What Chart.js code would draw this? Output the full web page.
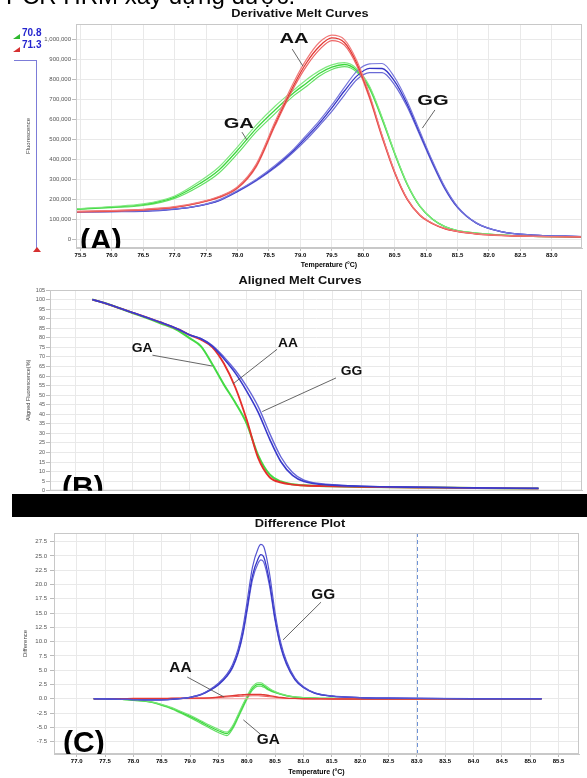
<!DOCTYPE html>
<html>
<head>
<meta charset="utf-8">
<script src="https://cdn.jsdelivr.net/npm/chart.js@4.4.1/dist/chart.umd.min.js"></script>
<style>
  body { margin: 0; background: #fff; width: 587px; height: 778px; overflow: hidden; position: relative; }
  canvas { position: absolute; left: 0; }
  #chartA { top: 0; }
  #chartB { top: 270px; }
  #chartC { top: 517px; }
  .cut-text { position: absolute; left: 6px; top: -18px; font: 24px "Liberation Sans", Arial, sans-serif; color: #000; white-space: nowrap; z-index: 2; }
  .tm { position: absolute; left: 22px; font: bold 10px "Liberation Sans", Arial, sans-serif; color: #2525cf; line-height: 10px; z-index: 2; }
  .flag { position: absolute; left: 13px; width: 0; height: 0; border-style: solid; z-index: 2; }
  .brk-h { position: absolute; left: 14px; top: 60px; width: 23px; border-top: 1.5px solid #7c7cd8; z-index: 2; }
  .brk-v { position: absolute; left: 36px; top: 60px; height: 190px; border-left: 1.5px solid #7c7cd8; z-index: 2; }
  .bar { position: absolute; left: 12px; top: 494px; width: 575px; height: 23px; background: #000; z-index: 3; }
</style>
</head>
<body>
<div class="cut-text">PCR HRM xây dựng được.</div>
<div class="tm" style="top:28px">70.8</div>
<div class="tm" style="top:40px">71.3</div>
<div class="flag" style="top:34px;border-width:0 0 5px 7px;border-color:transparent transparent #2fb82f transparent"></div>
<div class="flag" style="top:47px;border-width:0 0 5px 7px;border-color:transparent transparent #d63030 transparent"></div>
<div class="brk-h"></div>
<div class="brk-v"></div>
<div class="flag" style="left:33px;top:247px;border-width:0 4px 5px 4px;border-color:transparent transparent #d63030 transparent"></div>

<canvas id="chartA" width="587" height="270"></canvas>
<canvas id="chartB" width="587" height="225"></canvas>
<div class="bar"></div>
<canvas id="chartC" width="587" height="261"></canvas>

<script>
const FONT = '"Liberation Sans", Arial, sans-serif';

// (A) derivative melt curves, fluorescence vs temperature
const tempA = [75.43, 76.0, 76.5, 77.0, 77.4, 77.7, 78.0, 78.3, 78.6, 78.9, 79.1, 79.3, 79.5, 79.7, 79.9, 80.1, 80.3, 80.5, 80.7, 80.9, 81.1, 81.3, 81.5, 81.8, 82.2, 82.7, 83.48];
const derivAA1 = [139000, 143000, 149000, 162000, 185000, 213000, 262000, 377000, 590000, 790000, 902000, 985000, 1022000, 1000000, 893000, 725000, 520000, 338000, 202000, 121000, 79000, 53000, 38000, 26000, 18000, 13000, 11000];
const derivAA2 = [137000, 141000, 147000, 160000, 183000, 210000, 258000, 370000, 580000, 775000, 885000, 965000, 1008000, 985000, 880000, 715000, 515000, 335000, 200000, 120000, 78000, 52000, 38000, 26000, 18000, 13000, 11000];
const derivAA3 = [135000, 139000, 145000, 158000, 181000, 207000, 254000, 363000, 570000, 762000, 868000, 948000, 995000, 972000, 868000, 705000, 508000, 330000, 197000, 118000, 77000, 51000, 37000, 25000, 17000, 13000, 11000];
const derivGA1 = [152000, 163000, 176000, 216000, 290000, 360000, 462000, 572000, 667000, 748000, 800000, 843000, 873000, 884000, 853000, 766000, 610000, 433000, 277000, 166000, 101000, 62000, 42000, 30000, 20000, 14000, 11000];
const derivGA2 = [150000, 160000, 172000, 210000, 278000, 345000, 445000, 555000, 648000, 735000, 782000, 830000, 862000, 875000, 845000, 760000, 605000, 430000, 275000, 165000, 100000, 62000, 42000, 30000, 20000, 14000, 11000];
const derivGA3 = [148000, 157000, 168000, 204000, 266000, 330000, 428000, 538000, 630000, 720000, 766000, 816000, 850000, 864000, 836000, 752000, 598000, 426000, 272000, 163000, 99000, 61000, 41000, 29000, 20000, 14000, 11000];
const derivGG1 = [137000, 139000, 141000, 151000, 169000, 195000, 243000, 300000, 370000, 453000, 522000, 592000, 672000, 760000, 842000, 878000, 880000, 810000, 690000, 540000, 392000, 260000, 163000, 81000, 37000, 20000, 12000];
const derivGG2 = [136000, 138000, 140000, 150000, 168000, 193000, 240000, 296000, 364000, 446000, 512000, 580000, 658000, 742000, 818000, 856000, 855000, 790000, 675000, 530000, 385000, 255000, 160000, 80000, 37000, 20000, 12000];
const derivGG3 = [135000, 137000, 139000, 149000, 167000, 191000, 237000, 292000, 358000, 439000, 500000, 568000, 640000, 722000, 800000, 834000, 834000, 772000, 662000, 520000, 378000, 250000, 157000, 79000, 36000, 20000, 12000];
const fluorTicks = [0, 100000, 200000, 300000, 400000, 500000, 600000, 700000, 800000, 900000, 1000000];
const tempTicksA = [75.5, 76.0, 76.5, 77.0, 77.5, 78.0, 78.5, 79.0, 79.5, 80.0, 80.5, 81.0, 81.5, 82.0, 82.5, 83.0];

// (B) aligned melt curves, % fluorescence
const tempB = [76.8, 77.0, 77.5, 78.0, 78.3, 78.5, 78.7, 78.9, 79.1, 79.3, 79.5, 79.7, 79.9, 80.1, 80.3, 80.5, 81.0, 81.5, 82.5, 83.5, 84.6];
const alignAA = [100, 98.3, 93.2, 88, 84.5, 81.5, 79, 75, 66.5, 54, 37, 17, 7, 4.3, 3.2, 2.7, 2.3, 2.0, 1.7, 1.4, 1.1];
const alignGA = [100, 98.3, 93.0, 87.5, 83.8, 79.8, 75.5, 66, 55.5, 46, 35, 18.5, 8.5, 4.8, 3.4, 2.8, 2.3, 2.0, 1.7, 1.4, 1.1];
const alignGG1 = [100, 98.3, 93.2, 88, 84.5, 81.5, 79.5, 75.5, 69, 61.5, 52, 41, 27, 15, 8, 4.8, 2.9, 2.3, 1.8, 1.5, 1.2];
const alignGG2 = [100, 98.3, 93.2, 88, 84.5, 81.5, 79.5, 76, 70, 63, 54.5, 44, 30, 17.5, 9.5, 5.5, 3.1, 2.4, 1.9, 1.5, 1.2];
const alignTicks = [0, 5, 10, 15, 20, 25, 30, 35, 40, 45, 50, 55, 60, 65, 70, 75, 80, 85, 90, 95, 100, 105];
const tempTicksB = [76.5, 77.0, 77.5, 78.0, 78.5, 79.0, 79.5, 80.0, 80.5, 81.0, 81.5, 82.0, 82.5, 83.0, 83.5, 84.0, 84.5, 85.0];

// (C) difference plot, AA as reference
const tempC = [77.3, 77.8, 78.0, 78.3, 78.6, 78.8, 79.0, 79.2, 79.35, 79.5, 79.65, 79.75, 79.85, 79.93, 80.0, 80.1, 80.2, 80.25, 80.3, 80.4, 80.5, 80.6, 80.7, 80.85, 81.0, 81.2, 81.5, 82.0, 82.5, 83.0, 84.0, 85.2];
const diffGG1 = [0, -0.1, -0.15, -0.2, -0.15, 0, 0.25, 0.8, 1.6, 2.7, 4.3, 6.0, 8.8, 12.3, 16.6, 23.0, 26.3, 27.0, 26.6, 22.0, 15.0, 9.8, 6.6, 3.6, 2.1, 1.05, 0.5, 0.2, 0.1, 0.05, 0, 0];
const diffGG2 = [0, -0.1, -0.15, -0.2, -0.15, 0, 0.25, 0.75, 1.5, 2.5, 4.0, 5.6, 8.2, 11.5, 15.5, 21.5, 24.5, 25.2, 24.8, 20.5, 14.0, 9.2, 6.2, 3.4, 2.0, 1.0, 0.45, 0.2, 0.1, 0.05, 0, 0];
const diffGG3 = [0, -0.1, -0.15, -0.2, -0.15, 0, 0.25, 0.7, 1.45, 2.4, 3.9, 5.4, 8.0, 11.1, 15.0, 20.8, 23.7, 24.3, 23.9, 19.8, 13.6, 8.9, 6.0, 3.3, 1.9, 0.95, 0.45, 0.2, 0.1, 0.05, 0, 0];
const diffGA1 = [0, -0.1, -0.22, -0.5, -1.3, -2.05, -2.9, -3.9, -4.65, -5.35, -5.85, -4.75, -2.7, -1.0, 0.35, 2.1, 2.8, 2.8, 2.5, 1.8, 1.25, 0.85, 0.6, 0.32, 0.2, 0.1, 0.05, 0, 0, 0, 0, 0];
const diffGA2 = [0, -0.1, -0.25, -0.55, -1.4, -2.2, -3.1, -4.1, -4.9, -5.6, -6.1, -5.0, -3.0, -1.3, 0.1, 1.8, 2.5, 2.5, 2.25, 1.6, 1.15, 0.8, 0.55, 0.3, 0.2, 0.1, 0.05, 0, 0, 0, 0, 0];
const diffGA3 = [0, -0.12, -0.28, -0.6, -1.5, -2.35, -3.3, -4.35, -5.15, -5.9, -6.45, -5.3, -3.3, -1.6, -0.15, 1.5, 2.2, 2.2, 2.0, 1.45, 1.05, 0.75, 0.5, 0.28, 0.18, 0.1, 0.05, 0, 0, 0, 0, 0];
const diffAA1 = [0, 0.02, 0.05, 0.05, 0.08, 0.1, 0.1, 0.12, 0.15, 0.3, 0.45, 0.55, 0.65, 0.7, 0.75, 0.78, 0.78, 0.75, 0.7, 0.55, 0.38, 0.22, 0.12, 0.05, 0, -0.02, -0.05, -0.05, -0.05, -0.05, -0.03, 0];
const diffAA2 = [0, 0.02, 0.03, 0.04, 0.05, 0.06, 0.08, 0.1, 0.12, 0.2, 0.3, 0.36, 0.42, 0.46, 0.5, 0.52, 0.52, 0.5, 0.46, 0.36, 0.25, 0.15, 0.08, 0.03, 0, -0.02, -0.04, -0.04, -0.04, -0.04, -0.02, 0];
const diffAA3 = [0, 0, 0, 0, 0, 0, 0, 0, 0, 0, 0, 0, 0, 0, 0, 0, 0, 0, 0, 0, 0, 0, 0, 0, 0, 0, 0, 0, 0, 0, 0, 0];
const diffTicks = [-7.5, -5.0, -2.5, 0.0, 2.5, 5.0, 7.5, 10.0, 12.5, 15.0, 17.5, 20.0, 22.5, 25.0, 27.5];
const tempTicksC = [77.0, 77.5, 78.0, 78.5, 79.0, 79.5, 80.0, 80.5, 81.0, 81.5, 82.0, 82.5, 83.0, 83.5, 84.0, 84.5, 85.0, 85.5];

function stretchText(ctx, text, cx, cy, font, sx) {
  ctx.save();
  ctx.translate(cx, cy);
  ctx.scale(sx, 1);
  ctx.font = font;
  ctx.fillStyle = '#111';
  ctx.textAlign = 'center';
  ctx.textBaseline = 'middle';
  ctx.fillText(text, 0, 0);
  ctx.restore();
}

// frame, titles, genotype callouts and the big panel letter
const deco = {
  id: 'deco',
  afterDatasetsDraw(chart, args, o) {
    const { ctx, chartArea: a } = chart;
    const xs = chart.scales.x, ys = chart.scales.y;
    ctx.save();
    if (o.marker !== undefined) {
      const px = Math.round(xs.getPixelForValue(o.marker)) + 0.5;
      ctx.strokeStyle = '#6f93d6';
      ctx.lineWidth = 1;
      ctx.setLineDash([4, 3]);
      ctx.beginPath();
      ctx.moveTo(px, a.top);
      ctx.lineTo(px, a.bottom);
      ctx.stroke();
      ctx.setLineDash([]);
    }
    ctx.strokeStyle = '#c8c8c8';
    ctx.lineWidth = 1;
    ctx.strokeRect(a.left + 0.5, a.top + 0.5, a.width - 1, a.height - 1);

    o.notes.forEach((n) => {
      ctx.strokeStyle = '#555';
      ctx.lineWidth = 0.9;
      ctx.beginPath();
      ctx.moveTo(xs.getPixelForValue(n.from[0]), ys.getPixelForValue(n.from[1]));
      ctx.lineTo(xs.getPixelForValue(n.to[0]), ys.getPixelForValue(n.to[1]));
      ctx.stroke();
      stretchText(ctx, n.text, xs.getPixelForValue(n.at[0]), ys.getPixelForValue(n.at[1]),
        'bold ' + o.noteSize + 'px ' + FONT, o.noteStretch);
    });

    stretchText(ctx, o.title, 300, o.titleY, 'bold 10px ' + FONT, 1.28);

    ctx.beginPath();
    ctx.rect(a.left, a.top, a.width, a.height);
    ctx.clip();
    ctx.font = 'bold 30px ' + FONT;
    ctx.fillStyle = '#000';
    ctx.textAlign = 'left';
    ctx.textBaseline = 'alphabetic';
    ctx.fillText(o.letter, o.letterPos[0], o.letterPos[1]);
    ctx.restore();
  }
};

function line(data, color, width) {
  return {
    data,
    borderColor: color,
    borderWidth: width,
    pointRadius: 0,
    fill: false,
    cubicInterpolationMode: 'monotone'
  };
}

function scalesFor(o) {
  return {
    x: {
      type: 'linear',
      min: o.xMin,
      max: o.xMax,
      afterBuildTicks: (s) => { s.ticks = o.xTicks.map((v) => ({ value: v })); },
      afterFit: (s) => { s.height = o.xH; },
      grid: { color: '#e9e9e9', drawTicks: o.xLabels, tickLength: 3, tickColor: '#bbb' },
      border: { color: '#c8c8c8' },
      ticks: {
        display: o.xLabels, autoSkip: false, maxRotation: 0, padding: 1,
        color: '#000', font: { family: FONT, size: 6, weight: 'bold' },
        callback: (v) => Number(v).toFixed(1)
      },
      title: {
        display: !!o.xTitle, text: o.xTitle, padding: 0, color: '#000',
        font: { family: FONT, size: 7, weight: 'bold' }
      }
    },
    y: {
      min: o.yMin,
      max: o.yMax,
      afterBuildTicks: (s) => { s.ticks = o.yTicks.map((v) => ({ value: v })); },
      afterFit: (s) => { s.width = o.yW; },
      grid: { color: '#e9e9e9', tickLength: 4, tickColor: '#bbb' },
      border: { color: '#c8c8c8' },
      ticks: {
        padding: o.yPad, color: '#555', font: { family: FONT, size: o.yFont },
        callback: o.yFmt
      },
      title: {
        display: true, text: o.yTitle, padding: 0, color: '#444',
        font: { family: FONT, size: o.yTitleSize }
      }
    }
  };
}

function baseOptions(o, pad, decoOpts) {
  return {
    responsive: false,
    animation: false,
    layout: { padding: pad },
    plugins: { legend: { display: false }, tooltip: { enabled: false }, deco: decoOpts },
    scales: scalesFor(o)
  };
}

new Chart(document.getElementById('chartA'), {
  type: 'line',
  data: {
    labels: tempA,
    datasets: [
      line(derivAA1, '#f07a7a', 1.2), line(derivAA2, '#e23934', 1.3), line(derivAA3, '#ee6666', 1.2),
      line(derivGG1, '#7878dc', 1.2), line(derivGG2, '#3535c6', 1.3), line(derivGG3, '#6a6ad6', 1.2),
      line(derivGA1, '#80e880', 1.2), line(derivGA2, '#3cd83c', 1.3), line(derivGA3, '#66e066', 1.2)
    ]
  },
  options: baseOptions(
    { xMin: 75.43, xMax: 83.48, xTicks: tempTicksA, xH: 21, xLabels: true, xTitle: 'Temperature (°C)',
      yMin: -45000, yMax: 1078000, yTicks: fluorTicks, yW: 51, yPad: 1, yFont: 6,
      yFmt: (v) => Number(v).toLocaleString('en-US'), yTitle: 'Fluorescence', yTitleSize: 6 },
    { left: 25, right: 5, top: 24, bottom: 1 },
    { title: 'Derivative Melt Curves', titleY: 14, letter: '(A)', letterPos: [80, 250],
      noteSize: 15.5, noteStretch: 1.3,
      notes: [
        { text: 'AA', at: [78.9, 1002000], from: [78.87, 952000], to: [79.04, 867000] },
        { text: 'GA', at: [78.02, 576000], from: [78.07, 536000], to: [78.15, 496000] },
        { text: 'GG', at: [81.11, 692000], from: [81.14, 647000], to: [80.94, 556000] }
      ] }
  ),
  plugins: [deco]
});

new Chart(document.getElementById('chartB'), {
  type: 'line',
  data: {
    labels: tempB,
    datasets: [
      line(alignGG1, '#3a3acb', 1.6), line(alignGG2, '#6767d8', 1.4),
      line(alignAA, '#e5302c', 1.9), line(alignGA, '#44da44', 2.0)
    ]
  },
  options: baseOptions(
    { xMin: 76.06, xMax: 85.36, xTicks: tempTicksB, xH: 0, xLabels: false, xTitle: '',
      yMin: 0, yMax: 105, yTicks: alignTicks, yW: 25, yPad: 1, yFont: 5.5,
      yFmt: (v) => String(v), yTitle: 'Aligned Fluorescence(%)', yTitleSize: 5.5 },
    { left: 25, right: 5, top: 20, bottom: 2 },
    { title: 'Aligned Melt Curves', titleY: 11, letter: '(B)', letterPos: [62, 227],
      noteSize: 12, noteStretch: 1.15,
      notes: [
        { text: 'AA', at: [80.22, 77.1], from: [80.03, 74.0], to: [79.26, 55.9] },
        { text: 'GA', at: [77.67, 74.5], from: [77.85, 70.9], to: [78.9, 65.2] },
        { text: 'GG', at: [81.33, 62.1], from: [81.06, 59.0], to: [79.77, 41.4] }
      ] }
  ),
  plugins: [deco]
});

new Chart(document.getElementById('chartC'), {
  type: 'line',
  data: {
    labels: tempC,
    datasets: [
      line(diffGG1, '#5656d2', 1.2), line(diffGG2, '#3434c6', 1.3), line(diffGG3, '#6464d6', 1.2),
      line(diffAA1, '#e23934', 1.3), line(diffAA2, '#ec5f5f', 1.1), line(diffAA3, '#f2a6a6', 1.1),
      line(diffGA1, '#74e474', 1.2), line(diffGA2, '#3cd83c', 1.3), line(diffGA3, '#62de62', 1.2)
    ]
  },
  options: baseOptions(
    { xMin: 76.6, xMax: 85.86, xTicks: tempTicksC, xH: 22, xLabels: true, xTitle: 'Temperature (°C)',
      yMin: -9.67, yMax: 29.0, yTicks: diffTicks, yW: 32, yPad: 3, yFont: 6,
      yFmt: (v) => Number(v).toFixed(1), yTitle: 'Difference', yTitleSize: 6 },
    { left: 22, right: 8, top: 16, bottom: 2 },
    { title: 'Difference Plot', titleY: 7, letter: '(C)', letterPos: [63, 235], marker: 83.0,
      noteSize: 14, noteStretch: 1.1,
      notes: [
        { text: 'GG', at: [81.35, 18.1], from: [81.31, 16.9], to: [80.64, 10.3] },
        { text: 'AA', at: [78.83, 5.4], from: [78.95, 3.8], to: [79.6, 0.3] },
        { text: 'GA', at: [80.38, -7.2], from: [80.24, -6.2], to: [79.94, -3.7] }
      ] }
  ),
  plugins: [deco]
});
</script>
</body>
</html>
